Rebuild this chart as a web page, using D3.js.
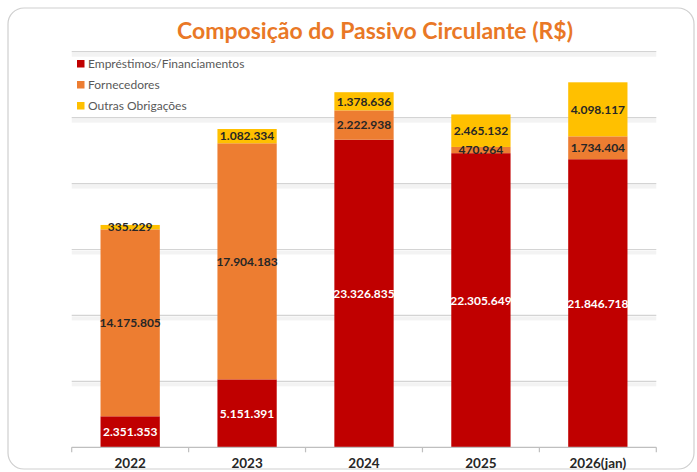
<!DOCTYPE html>
<html>
<head>
<meta charset="utf-8">
<script src="https://cdn.jsdelivr.net/npm/d3@7"></script>
<style>
  body { margin: 0; background: #fff; }
  svg { display: block; }
</style>
</head>
<body>
<svg id="chart"></svg>
<script>
// data
const years = ["2022", "2023", "2024", "2025", "2026(jan)"];
const seriesNames = ["Empréstimos/Financiamentos", "Fornecedores", "Outras Obrigações"];
const emprestimos = [2351353, 5151391, 23326835, 22305649, 21846718];
const fornecedores = [14175805, 17904183, 2222938, 470964, 1734404];
const outras = [335229, 1082334, 1378636, 2465132, 4098117];
const yTicks = [0, 5000000, 10000000, 15000000, 20000000, 25000000, 30000000];

const colors = ["#C00000", "#ED7D31", "#FFC000"];
const labelColors = ["#ffffff", "#262626", "#262626"];

// setting up svg
const w = 697, h = 472;
const svg = d3.select("#chart").attr("width", w).attr("height", h);

svg.append("rect")
  .attr("x", 8).attr("y", 8)
  .attr("width", 686).attr("height", 461)
  .attr("rx", 16)
  .attr("fill", "#fff")
  .attr("stroke", "#cfcfcf")
  .attr("stroke-width", 1.2);

svg.append("text")
  .attr("x", 375).attr("y", 38.5)
  .attr("text-anchor", "middle")
  .attr("font-family", "Lato, sans-serif")
  .attr("font-weight", "bold")
  .attr("font-size", 23)
  .attr("fill", "#E97826")
  .text("Composição do Passivo Circulante (R$)");

// scales
const margin = { left: 71.7, right: 656.3, top: 51.7, bottom: 447.3 };
const x = d3.scaleBand().domain(years).range([margin.left, margin.right]).paddingInner(0.493).paddingOuter(0.2465);
const y = d3.scaleLinear().domain([0, 30000000]).range([margin.bottom, margin.top]);

// gridlines (with soft shadow)
const grid = svg.append("g");
grid.selectAll("rect.shadow")
  .data(yTicks.slice(1))
  .join("rect")
    .attr("class", "shadow")
    .attr("x", margin.left).attr("width", margin.right - margin.left)
    .attr("y", d => y(d) + 1).attr("height", 4)
    .attr("fill", "#f3f3f3");
grid.selectAll("line")
  .data(yTicks.slice(1))
  .join("line")
    .attr("x1", margin.left).attr("x2", margin.right)
    .attr("y1", d => y(d)).attr("y2", d => y(d))
    .attr("stroke", "#d4d4d4")
    .attr("stroke-width", 1.2);

// stacking
const table = years.map((yr, i) => ({ year: yr, s0: emprestimos[i], s1: fornecedores[i], s2: outras[i] }));
const stacked = d3.stack().keys(["s0", "s1", "s2"])(table);

const layers = svg.selectAll("g.layer")
  .data(stacked)
  .join("g")
    .attr("class", "layer")
    .attr("fill", (d, i) => colors[i]);

layers.selectAll("rect")
  .data(d => d)
  .join("rect")
    .attr("x", d => x(d.data.year))
    .attr("width", x.bandwidth())
    .attr("y", d => y(d[1]))
    .attr("height", d => y(d[0]) - y(d[1]));

// labels
const fmt = v => d3.format(",")(v).replace(/,/g, ".");
stacked.forEach((layer, li) => {
  svg.append("g").selectAll("text")
    .data(layer)
    .join("text")
      .attr("x", d => x(d.data.year) + x.bandwidth() / 2)
      .attr("y", d => (y(d[0]) + y(d[1])) / 2)
      .attr("dy", "0.36em")
      .attr("text-anchor", "middle")
      .attr("font-family", "Lato, sans-serif")
      .attr("font-weight", "bold")
      .attr("font-size", 12)
      .attr("fill", labelColors[li])
      .text(d => fmt(d[1] - d[0]));
});

// x axis
const xAxis = svg.append("g");
xAxis.append("line")
  .attr("x1", margin.left).attr("x2", margin.right)
  .attr("y1", margin.bottom).attr("y2", margin.bottom)
  .attr("stroke", "#bfbfbf").attr("stroke-width", 1.2);
const step = x.step();
xAxis.selectAll("line.tick")
  .data(d3.range(years.length + 1))
  .join("line")
    .attr("class", "tick")
    .attr("x1", i => margin.left + i * step).attr("x2", i => margin.left + i * step)
    .attr("y1", margin.bottom).attr("y2", margin.bottom + 5)
    .attr("stroke", "#bfbfbf").attr("stroke-width", 1.2);
xAxis.selectAll("text")
  .data(years)
  .join("text")
    .attr("x", d => x(d) + x.bandwidth() / 2)
    .attr("y", 468)
    .attr("text-anchor", "middle")
    .attr("font-family", "Lato, sans-serif")
    .attr("font-weight", "bold")
    .attr("font-size", 13.5)
    .attr("fill", "#262626")
    .text(d => d);

// legend
const legend = svg.append("g").selectAll("g")
  .data(seriesNames)
  .join("g")
    .attr("transform", (d, i) => `translate(77, ${64 + i * 21})`);
legend.append("rect")
  .attr("x", 0).attr("y", -4)
  .attr("width", 7.5).attr("height", 7.5)
  .attr("fill", (d, i) => colors[i]);
legend.append("text")
  .attr("x", 11).attr("y", 0)
  .attr("dy", "0.36em")
  .attr("font-family", "Lato, sans-serif")
  .attr("font-size", 12)
  .attr("fill", "#595959")
  .text(d => d);
</script>
</body>
</html>
